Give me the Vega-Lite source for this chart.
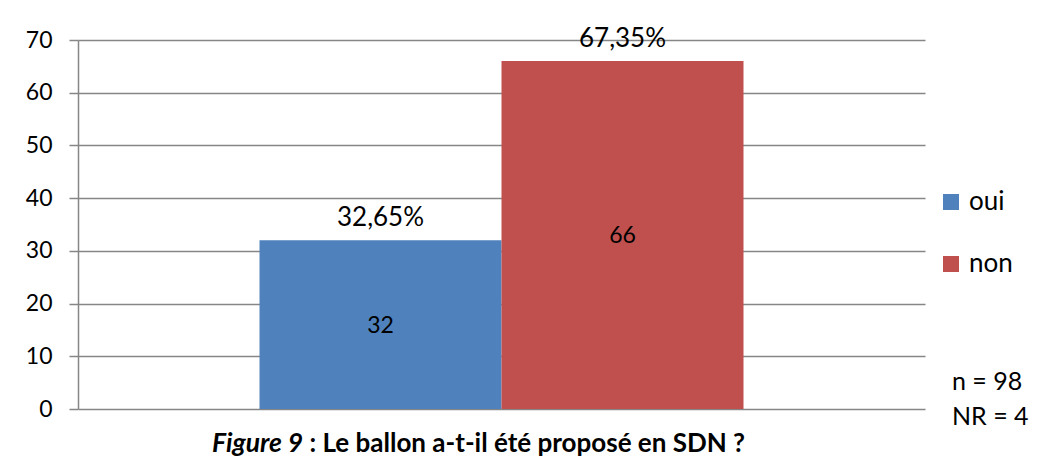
{
  "$schema": "https://vega.github.io/schema/vega-lite/v6.json",
  "autosize": "none",
  "padding": {"left": 78, "top": 40, "right": 129, "bottom": 63},
  "width": 847,
  "height": 369,
  "background": "white",
  "data": {"values": [
    {"reponse": "oui", "effectif": 32, "pct": "32,65%"},
    {"reponse": "non", "effectif": 66, "pct": "67,35%"}
  ]},
  "title": {
    "text": "Figure 9",
    "orient": "bottom",
    "anchor": "start",
    "frame": "group",
    "font": "Lato",
    "fontSize": 26.5,
    "fontWeight": "bold",
    "fontStyle": "italic",
    "color": "black",
    "dx": 134,
    "dy": -25,
    "offset": 0
  },
  "config": {
    "view": {"stroke": null},
    "font": "Lato"
  },
  "encoding": {
    "x": {
      "field": "reponse",
      "type": "nominal",
      "scale": {"domain": ["oui", "non"], "paddingInner": 0, "paddingOuter": 0.75},
      "axis": {
        "labels": false, "ticks": false, "domain": false, "grid": false,
        "title": ": Le ballon a-t-il été proposé en SDN ?",
        "titleFont": "Lato", "titleFontSize": 26, "titleFontWeight": "bold", "titleColor": "black",
        "titleX": 231, "titleY": 42, "titleAlign": "left", "titleAnchor": null, "titleBaseline": "alphabetic"
      }
    }
  },
  "layer": [
    {
      "mark": {"type": "bar"},
      "encoding": {
        "y": {
          "field": "effectif", "type": "quantitative",
          "scale": {"domain": [0, 70], "nice": false},
          "axis": {
            "title": null, "values": [0, 10, 20, 30, 40, 50, 60, 70],
            "labelFont": "Lato", "labelFontSize": 23, "labelColor": "black", "labelPadding": 17,
            "tickSize": 9, "tickColor": "#868686", "tickWidth": 1.5,
            "domainColor": "#868686", "domainWidth": 1.5,
            "gridColor": "#868686", "gridWidth": 1.5, "gridOpacity": 1
          }
        },
        "color": {
          "field": "reponse", "type": "nominal",
          "scale": {"domain": ["oui", "non"], "range": ["#4F81BD", "#C0504D"]},
          "legend": {
            "orient": "none", "legendX": 860, "legendY": 149,
            "title": ["n = 98", "NR = 4"],
            "titleOrient": "bottom", "titlePadding": 93,
            "titleFont": "Lato", "titleFontSize": 25, "titleFontWeight": "normal", "titleColor": "black",
            "titleLineHeight": 35,
            "labelFont": "Lato", "labelFontSize": 26, "labelColor": "black", "labelOffset": 5,
            "symbolType": "square", "symbolSize": 256, "symbolStrokeWidth": 0, "symbolOpacity": 1,
            "rowPadding": 36, "padding": 0,
            "encode": {"title": {"update": {"dx": {"value": 14}}}}
          }
        }
      }
    },
    {
      "mark": {"type": "text", "font": "Lato", "fontSize": 26, "color": "black", "baseline": "alphabetic", "dy": -14},
      "encoding": {
        "y": {"field": "effectif", "type": "quantitative", "scale": {"domain": [0, 70], "nice": false}, "axis": null},
        "text": {"field": "pct"}
      }
    },
    {
      "mark": {"type": "text", "font": "Lato", "fontSize": 23, "color": "black", "baseline": "middle", "dy": 1},
      "encoding": {
        "y": {"field": "effectif", "type": "quantitative", "scale": {"domain": [0, 140], "nice": false}, "axis": null},
        "text": {"field": "effectif"}
      }
    }
  ],
  "resolve": {"scale": {"y": "independent"}}
}
